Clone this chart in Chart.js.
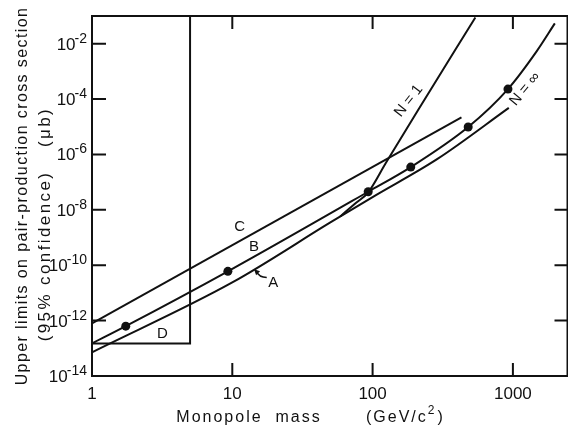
<!DOCTYPE html>
<html>
<head>
<meta charset="utf-8">
<script src="https://cdn.jsdelivr.net/npm/chart.js@4.4.0/dist/chart.umd.min.js"></script>
<style>
  html, body { margin: 0; padding: 0; background: #fff; overflow: hidden; }
  #wrap { width: 572px; height: 428px; }
</style>
</head>
<body>
<div id="wrap"><canvas id="monopole" width="572" height="428"></canvas></div>
<script>
// curve A
const massA = [1, 10, 50, 100, 290, 935]
const limitA = [7.2e-14, 2.4e-11, 3.5e-9, 2.9e-8, 6.9e-7, 4.8e-5]
// curve B, through the measured points
const massB = [1, 1.74, 9.3, 93, 187, 480, 922, 1480, 1990]
const limitB = [1.5e-13, 6.3e-13, 6e-11, 4.5e-8, 3.5e-7, 9.8e-6, 2.3e-4, 5.4e-3, 5.4e-2]
const pointMass = [1.74, 9.3, 93, 187, 480, 922]
const pointLimit = [6.3e-13, 6e-11, 4.5e-8, 3.5e-7, 9.8e-6, 2.3e-4]
// line C
const massC = [1, 430]
const limitC = [8e-13, 2.2e-5]
// region D
const massD = [1, 5, 5]
const limitD = [1.5e-13, 1.5e-13, 1e-1]
// N = 1
const massN1 = [58.8, 76.3, 92.8, 124.5, 209, 540]
const limitN1 = [5.8e-9, 1.8e-8, 4.2e-8, 5e-7, 3.7e-5, 8.9e-2]

const xTicks = [1, 10, 100, 1000]
const yTicks = [1e-14, 1e-12, 1e-10, 1e-8, 1e-6, 1e-4, 1e-2]

const ink = '#111'
const font = '"Liberation Sans", Arial, sans-serif'

const pts = (xs, ys) => xs.map((m, i) => ({x: m, y: ys[i]}))

function curve(label, xs, ys, smooth) {
    return {
        label: label,
        data: pts(xs, ys),
        showLine: true,
        borderColor: ink,
        borderWidth: 2,
        pointRadius: 0,
        fill: false,
        cubicInterpolationMode: smooth ? 'monotone' : 'default'
    }
}

// text labels placed in data coordinates
const notes = [
    {text: 'C', x: 11.3, y: 2.5e-9},
    {text: 'B', x: 14.3, y: 4.8e-10},
    {text: 'A', x: 19.6, y: 2.4e-11},
    {text: 'D', x: 3.18, y: 3.2e-13},
    {text: 'N = 1', x: 181, y: 8.5e-5, rot: -52},
    {text: 'N = ∞', x: 1218, y: 2.3e-4, rot: -50}
]

// "10" with a raised exponent, right edge at xr
function powerLabel(ctx, xr, py, exp) {
    ctx.textAlign = 'left'
    ctx.textBaseline = 'alphabetic'
    ctx.font = '14px ' + font
    const e = String(exp)
    const we = ctx.measureText(e).width
    ctx.fillText(e, xr - we, py - 1)
    ctx.font = '17px ' + font
    const wb = ctx.measureText('10').width
    ctx.fillText('10', xr - we - wb + 1, py + 6)
}

const framePlugin = {
    id: 'frame',
    afterDraw(chart) {
        const {ctx, chartArea: a, scales: {x, y}} = chart
        ctx.save()
        ctx.strokeStyle = ink
        ctx.fillStyle = ink
        ctx.lineWidth = 2
        ctx.strokeRect(a.left, a.top, a.right - a.left, a.bottom - a.top)

        // inward ticks on all four sides
        ctx.beginPath()
        xTicks.slice(1).forEach(v => {
            const px = x.getPixelForValue(v)
            ctx.moveTo(px, a.bottom); ctx.lineTo(px, a.bottom - 13)
            ctx.moveTo(px, a.top); ctx.lineTo(px, a.top + 13)
        })
        yTicks.slice(1).forEach(v => {
            const py = y.getPixelForValue(v)
            ctx.moveTo(a.left, py); ctx.lineTo(a.left + 14, py)
            ctx.moveTo(a.right, py); ctx.lineTo(a.right - 13, py)
        })
        ctx.stroke()

        // y tick labels
        yTicks.forEach(v => {
            powerLabel(ctx, a.left - 5, y.getPixelForValue(v), Math.round(Math.log10(v)))
        })

        // curve labels
        ctx.font = '15px ' + font
        ctx.textAlign = 'center'
        ctx.textBaseline = 'middle'
        notes.forEach(n => {
            ctx.save()
            ctx.translate(x.getPixelForValue(n.x), y.getPixelForValue(n.y))
            if (n.rot) ctx.rotate(n.rot * Math.PI / 180)
            ctx.fillText(n.text, 0, 0)
            ctx.restore()
        })

        // arrow from A to its curve
        const tx = x.getPixelForValue(14.3), ty = y.getPixelForValue(7.2e-11)
        const sx = x.getPixelForValue(17.6), sy = y.getPixelForValue(3.6e-11)
        ctx.lineWidth = 1.5
        ctx.beginPath()
        ctx.moveTo(sx, sy)
        ctx.quadraticCurveTo(tx + 5, sy, tx + 2, ty + 2)
        ctx.stroke()
        ctx.beginPath()
        ctx.moveTo(tx, ty)
        ctx.lineTo(tx + 6, ty + 2)
        ctx.lineTo(tx + 2, ty + 6)
        ctx.closePath()
        ctx.fill()

        // x axis title
        ctx.font = '16px ' + font
        ctx.letterSpacing = '2px'
        ctx.textAlign = 'center'
        ctx.textBaseline = 'alphabetic'
        ctx.fillText('Monopole  mass', 249, 422)
        ctx.textAlign = 'left'
        ctx.fillText('(GeV/c', 366, 422)
        let w = ctx.measureText('(GeV/c').width
        ctx.font = '12px ' + font
        ctx.fillText('2', 366 + w, 414)
        w += ctx.measureText('2').width + 1
        ctx.font = '16px ' + font
        ctx.fillText(')', 366 + w, 422)

        // y axis title
        ctx.textAlign = 'center'
        ctx.letterSpacing = '1.4px'
        ctx.translate(27, a.top + (a.bottom - a.top) / 2)
        ctx.rotate(-Math.PI / 2)
        ctx.fillText('Upper limits on pair-production cross section', 0, 0)
        ctx.font = '17px ' + font
        ctx.letterSpacing = '2.4px'
        ctx.fillText('(95% confidence)', -60, 23)
        ctx.fillText('(μb)', 69, 23)
        ctx.restore()
    }
}

const ctx = document.getElementById('monopole').getContext('2d')
new Chart(ctx, {
    type: 'scatter',
    data: {
        datasets: [
            curve('D', massD, limitD, false),
            curve('C', massC, limitC, false),
            curve('B', massB, limitB, true),
            curve('A', massA, limitA, true),
            curve('N = 1', massN1, limitN1, true),
            {
                label: 'measured',
                data: pts(pointMass, pointLimit),
                showLine: false,
                pointRadius: 4.5,
                pointBackgroundColor: ink,
                pointBorderWidth: 0
            }
        ]
    },
    options: {
        responsive: false,
        animation: false,
        devicePixelRatio: 1,
        layout: {padding: {top: 16, right: 1, left: 0, bottom: 0}},
        plugins: {
            legend: {display: false},
            tooltip: {enabled: false}
        },
        scales: {
            x: {
                type: 'logarithmic',
                min: 1,
                max: 2450,
                grid: {display: false, drawTicks: false},
                border: {display: false},
                afterBuildTicks: s => { s.ticks = xTicks.map(v => ({value: v})) },
                afterFit: s => { s.height = 52 },
                ticks: {
                    color: ink,
                    padding: 8,
                    maxRotation: 0,
                    autoSkip: false,
                    font: {family: font, size: 17},
                    callback: v => String(v)
                }
            },
            y: {
                type: 'logarithmic',
                min: 1e-14,
                max: 1e-1,
                grid: {display: false, drawTicks: false},
                border: {display: false},
                afterBuildTicks: s => { s.ticks = yTicks.map(v => ({value: v})) },
                afterFit: s => { s.width = 92 },
                ticks: {display: false}
            }
        }
    },
    plugins: [framePlugin]
})
</script>
</body>
</html>
